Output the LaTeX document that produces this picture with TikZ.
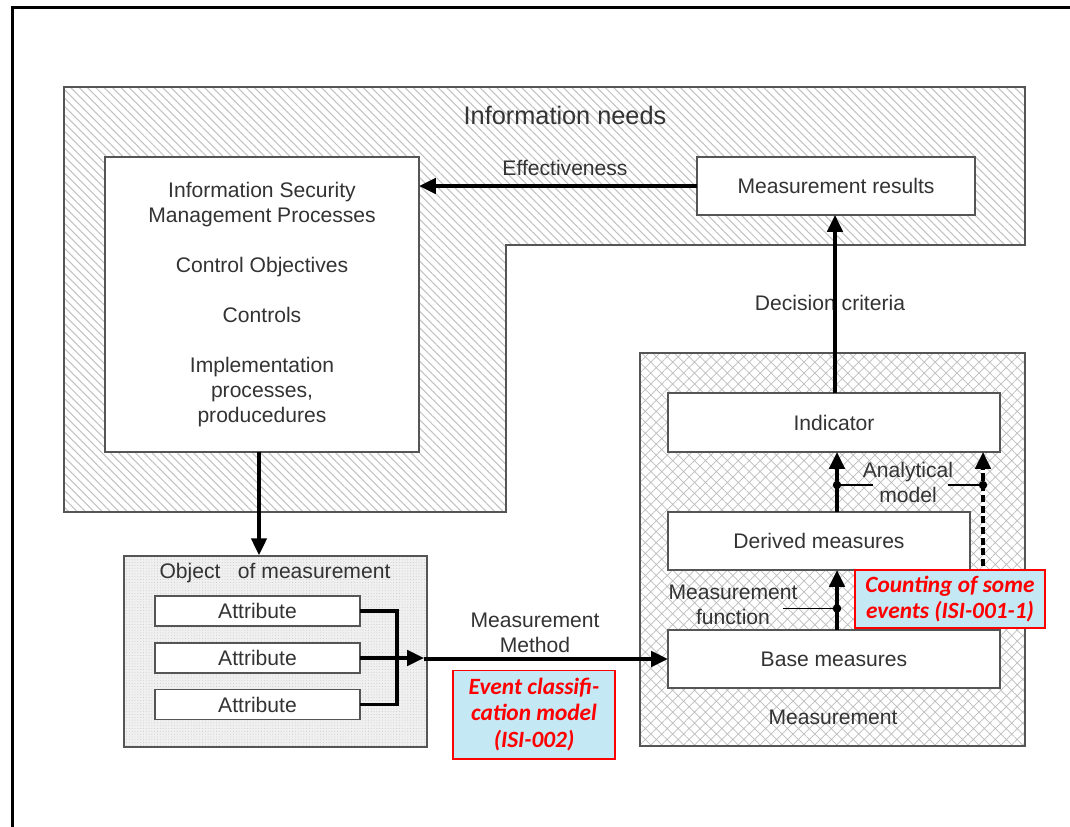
\documentclass[tikz,border=0pt]{standalone}
\usepackage{fontspec}
\setmainfont{Liberation Sans}
\newfontfamily\calib{Carlito}
\usetikzlibrary{arrows.meta,patterns.meta}
\definecolor{ink}{HTML}{333333}
\definecolor{edge}{HTML}{555555}
\definecolor{note}{HTML}{C5E8F5}
\tikzset{
  lbl/.style={text=ink,font=\fontsize{15}{17.8}\selectfont,align=center,inner sep=0pt},
  head/.style={text=ink,font=\fontsize{18}{21}\selectfont,inner sep=0pt},
  box/.style={draw=edge,line width=1.1pt,fill=white,inner sep=0pt,outer sep=0pt,
    text=ink,font=\fontsize{15}{17.8}\selectfont,align=center},
  redbox/.style={draw=red,line width=1.4pt,fill=note,inner sep=0pt,outer sep=0pt,
    text=red,font=\calib\bfseries\itshape\fontsize{16.6}{18.8}\selectfont,align=center},
  arr/.style={line width=2.3pt,-{Triangle[length=12pt,width=11pt]}},
  link/.style={line width=2.3pt},
  tick/.style={line width=0.8pt,draw=black},
  knot/.style={fill=black,circle,inner sep=0pt,minimum size=6pt},
  hatchreg/.style={draw=edge,line width=1.2pt,preaction={fill=white},
    pattern={Lines[angle=-45,distance=4.2pt,line width=0.75pt]},pattern color=black!24},
  crossreg/.style={draw=edge,line width=1.2pt,preaction={fill=white},
    pattern={Hatch[angle=45,distance=5.5pt,line width=0.5pt]},pattern color=black!26},
  dotreg/.style={draw=edge,line width=1.2pt,preaction={fill=black!6},
    pattern={Dots[distance=2pt,radius=0.35pt]},pattern color=black!22},
}
\begin{document}
\begin{tikzpicture}[x=0.025cm,y=-0.025cm]
\useasboundingbox (0,0) rectangle (1070,827);
\fill[white] (0,0) rectangle (1070,827);
% page frame
\draw[line width=2.2pt] (1072,7.5) -- (12.5,7.5) -- (12.5,830);

% information needs area (L-shaped)
\draw[hatchreg] (64,87) -- (1025,87) -- (1025,245) -- (506,245) -- (506,512) -- (64,512) -- cycle;
\node[head] (needs) at (565,115) {Information needs};

% measurement area
\node[crossreg,minimum width=9.625cm,minimum height=9.825cm,inner sep=0pt] (meas) at (832.5,549.5) {};
\node[lbl] (measlbl) at (833,717) {Measurement};

% object of measurement area
\node[dotreg,minimum width=7.575cm,minimum height=4.775cm,inner sep=0pt] (obj) at (275.5,651.5) {};
\node[lbl] (objlbl) at (275,573) {Object\hspace{0.55em} of measurement};

% boxes
\node[box,minimum width=7.85cm,minimum height=7.375cm] (ismp) at (262,304.5)
  {Information Security\\Management Processes\\[17.8pt]Control Objectives\\[17.8pt]Controls\\[17.8pt]Implementation\\processes,\\producedures};
\node[box,minimum width=6.95cm,minimum height=1.45cm] (mr) at (836,186) {Measurement results};
\node[box,minimum width=8.3cm,minimum height=1.475cm] (ind) at (834,422.5) {Indicator};
\node[box,minimum width=7.55cm,minimum height=1.45cm] (der) at (819,541) {Derived measures};
\node[box,minimum width=8.3cm,minimum height=1.45cm] (base) at (834,659) {Base measures};
\node[box,minimum width=5.125cm,minimum height=0.75cm] (a1) at (257.5,611) {Attribute};
\node[box,minimum width=5.125cm,minimum height=0.75cm] (a2) at (257.5,658) {Attribute};
\node[box,minimum width=5.125cm,minimum height=0.75cm] (a3) at (257.5,704.5) {Attribute};

% effectiveness feedback
\node[lbl] (eff) at (565,168) {Effectiveness};
\draw[arr] (mr.west) -- (mr.west -| ismp.east);

% decision criteria
\node[lbl] (dec) at (830,303) {Decision criteria};
\coordinate (dx) at (835,0);
\draw[arr] (ind.north -| dx) -- (mr.south -| dx);

% ISMS processes to object of measurement
\coordinate (ox) at (259,0);
\draw[arr] (ismp.south -| ox) -- (obj.north -| ox);

% attributes to base measures
\coordinate (jn) at (397,0);
\coordinate (mtip) at (424,658.5);
\draw[link] (a1.east) -- (a1.east -| jn) -- (a3.east -| jn) -- (a3.east);
\draw[arr] (a2.east) -- (a2.east -| mtip);
\draw[arr] (base.west -| mtip) -- (base.west);
\node[lbl] (mm) at (535,632.5) {Measurement\\Method};

% measurement function
\coordinate (fx) at (837,0);
\draw[arr] (base.north -| fx) -- (der.south -| fx);
\node[knot] (k1) at (837,608.5) {};
\coordinate (t1) at (783,608.5);
\draw[tick] (t1) -- (k1.center);
\node[lbl] (mf) at (733,604.5) {Measurement\\function};

% analytical model
\draw[arr] (der.north -| fx) -- (ind.south -| fx);
\node[knot] (k2) at (837,485) {};
\coordinate (t2) at (873,485);
\draw[tick] (k2.center) -- (t2);
\node[lbl] (am) at (908,482.5) {Analytical\\model};
\coordinate (dbot) at (983,566);
\draw[line width=2.3pt,dash pattern=on 5pt off 2.6pt,-{Triangle[length=12pt,width=11pt]}] (dbot) -- (dbot |- ind.south);
\node[knot] (k3) at (983,485) {};
\coordinate (t3) at (948,485);
\draw[tick] (t3) -- (k3.center);

% notes
\node[redbox,minimum width=4.75cm,minimum height=1.45cm] (cnt) at (950,599) {Counting of some\\events (ISI-001-1)};
\node[redbox,minimum width=4.05cm,minimum height=2.2cm] (evt) at (534,714.5) {Event classifi-\\cation model\\(ISI-002)};
\end{tikzpicture}
\end{document}
